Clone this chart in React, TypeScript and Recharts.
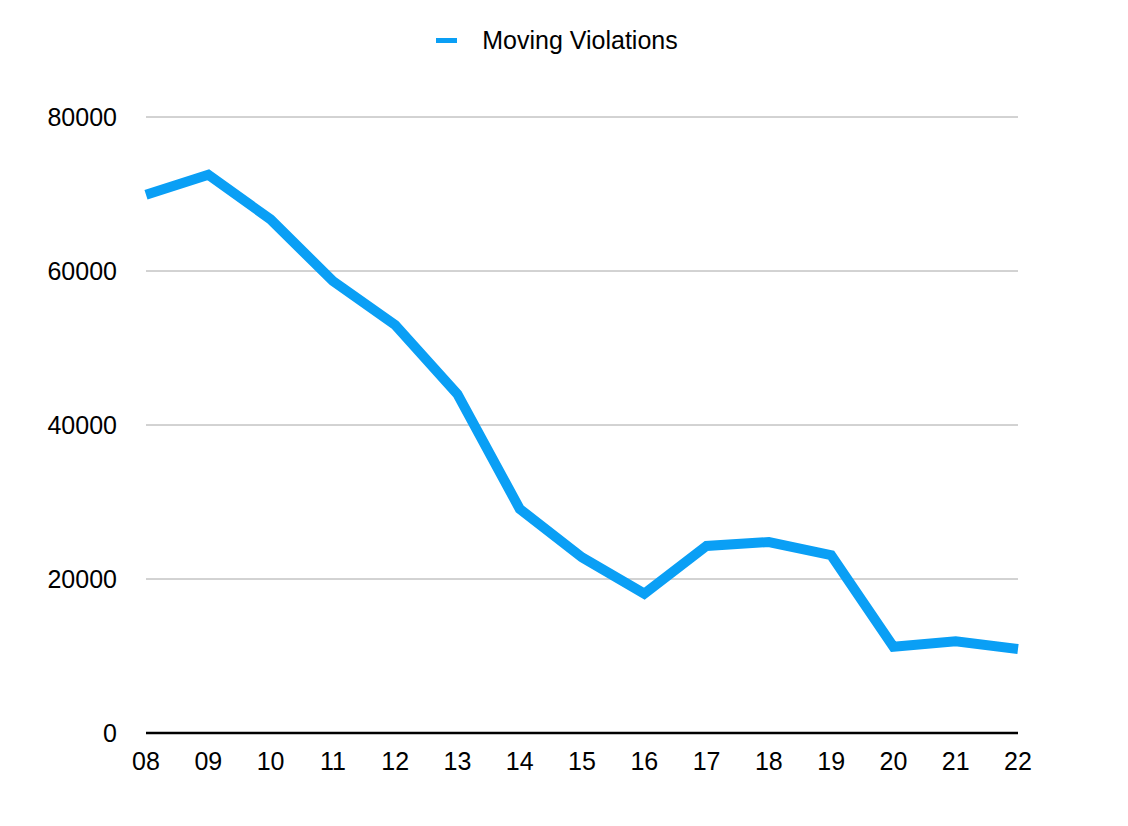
import React from "react";
import {
  CartesianGrid,
  Legend,
  Line,
  LineChart,
  ReferenceLine,
  XAxis,
  YAxis,
} from "recharts";

const years = ["08", "09", "10", "11", "12", "13", "14", "15", "16", "17", "18", "19", "20", "21", "22"];
const movingViolations = [
  69900, 72500, 66700, 58700, 53000, 44000, 29100, 22800, 18100, 24300, 24800, 23100, 11200, 11900, 10900,
];
const yTicks = [0, 20000, 40000, 60000, 80000];

const data = years.map((year, i) => ({ year, value: movingViolations[i] }));

const BLUE = "#0a9ff5";
const FONT = "'Liberation Sans', Arial, Helvetica, sans-serif";

function LegendContent() {
  return (
    <div
      style={{
        height: 97,
        display: "flex",
        justifyContent: "center",
        alignItems: "flex-start",
        paddingRight: 14,
        fontFamily: FONT,
        fontSize: 25,
        color: "#000",
      }}
    >
      <div style={{ display: "flex", alignItems: "center", height: 40 }}>
        <span style={{ display: "inline-block", width: 21, height: 5, background: BLUE, marginRight: 25 }} />
        <span>Moving Violations</span>
      </div>
    </div>
  );
}

export default function App() {
  return (
    <div style={{ position: "absolute", left: 0, top: 0, background: "#fff" }}>
      <LineChart width={1128} height={826} data={data} margin={{ top: 20, right: 110, bottom: 63, left: 0 }}>
        <Legend
          verticalAlign="top"
          wrapperStyle={{ left: 0, width: 1128 }}
          content={() => <LegendContent />}
        />
        <CartesianGrid vertical={false} stroke="#a6a6a6" strokeWidth={1} />
        <XAxis
          dataKey="year"
          height={30}
          axisLine={false}
          tickLine={false}
          tickMargin={13}
          interval={0}
          tick={{ fill: "#000", fontSize: 25, fontFamily: FONT }}
        />
        <YAxis
          width={146}
          domain={[0, 80000]}
          ticks={yTicks}
          axisLine={false}
          tickLine={false}
          tickMargin={23}
          tick={{ fill: "#000", fontSize: 25, fontFamily: FONT }}
        />
        <ReferenceLine y={0} stroke="#000" strokeWidth={2.5} />
        <Line
          type="linear"
          dataKey="value"
          stroke={BLUE}
          strokeWidth={10}
          dot={false}
          activeDot={false}
          isAnimationActive={false}
        />
      </LineChart>
    </div>
  );
}
